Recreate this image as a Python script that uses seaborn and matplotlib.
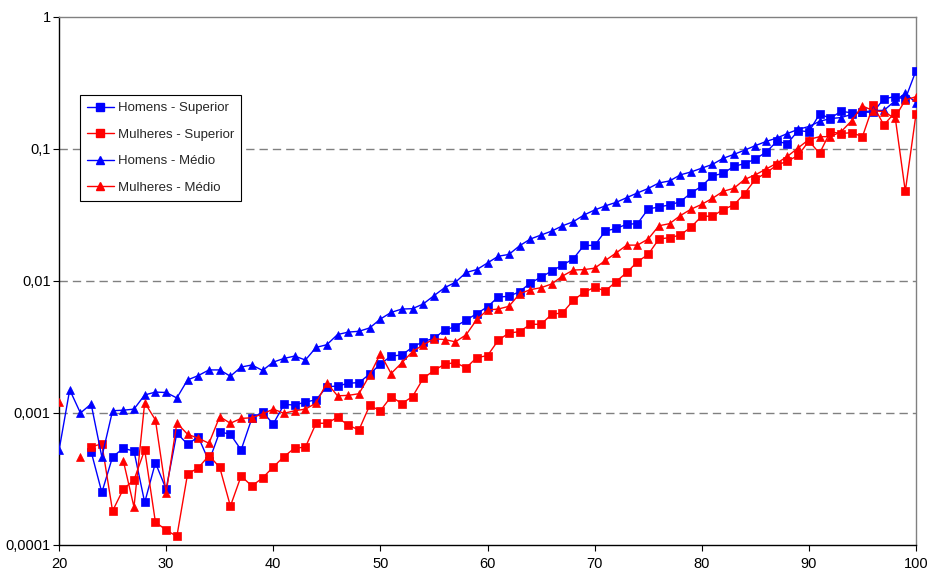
import numpy as np
import pandas as pd
import matplotlib
matplotlib.use("Agg")
import matplotlib.pyplot as plt
import seaborn as sns
from matplotlib.ticker import FixedLocator, NullLocator, FixedFormatter
from matplotlib.lines import Line2D

N = np.nan

ages = list(range(19, 101))

# Homens - Superior (ages 19..100)
homens_superior = [N, N, N, N,
    5.1e-4, 2.5e-4, 4.65e-4, 5.4e-4, 5.15e-4, 2.1e-4, 4.2e-4, 2.65e-4,
    7.05e-4, 5.8e-4, 6.6e-4, 4.3e-4, 7.2e-4, 6.9e-4, 5.25e-4, 9.1e-4, 1.02e-3, 8.25e-4,
    1.16e-3, 1.15e-3, 1.21e-3, 1.26e-3, 1.58e-3, 1.60e-3, 1.68e-3, 1.70e-3, 1.97e-3, 2.35e-3,
    2.70e-3, 2.75e-3, 3.15e-3, 3.48e-3, 3.68e-3, 4.24e-3, 4.52e-3, 5.05e-3, 5.66e-3, 6.38e-3,
    7.57e-3, 7.65e-3, 8.3e-3, 9.66e-3, 1.07e-2, 1.19e-2, 1.32e-2, 1.47e-2, 1.86e-2, 1.86e-2,
    2.39e-2, 2.50e-2, 2.69e-2, 2.72e-2, 3.51e-2, 3.64e-2, 3.77e-2, 3.99e-2, 4.64e-2, 5.23e-2,
    6.27e-2, 6.53e-2, 7.4e-2, 7.74e-2, 8.4e-2, 9.45e-2, 0.114, 0.110, 0.138, 0.135,
    0.184, 0.171, 0.193, 0.188, 0.19, 0.19, 0.24, 0.249, 0.239, 0.392]

# Mulheres - Superior
mulheres_superior = [N, N, N, N,
    5.55e-4, 5.83e-4, 1.81e-4, 2.65e-4, 3.11e-4, 5.25e-4, 1.49e-4, 1.30e-4,
    1.16e-4, 3.45e-4, 3.84e-4, 4.76e-4, 3.88e-4, 1.97e-4, 3.33e-4, 2.8e-4, 3.22e-4, 3.9e-4,
    4.67e-4, 5.43e-4, 5.5e-4, 8.36e-4, 8.36e-4, 9.27e-4, 8.08e-4, 7.44e-4, 1.14e-3, 1.04e-3,
    1.33e-3, 1.18e-3, 1.33e-3, 1.83e-3, 2.10e-3, 2.34e-3, 2.41e-3, 2.2e-3, 2.63e-3, 2.72e-3,
    3.55e-3, 4.04e-3, 4.13e-3, 4.7e-3, 4.7e-3, 5.6e-3, 5.73e-3, 7.13e-3, 8.2e-3, 8.96e-3,
    8.4e-3, 9.9e-3, 1.16e-2, 1.40e-2, 1.59e-2, 2.08e-2, 2.13e-2, 2.23e-2, 2.56e-2, 3.1e-2,
    3.09e-2, 3.48e-2, 3.77e-2, 4.6e-2, 5.88e-2, 6.6e-2, 7.53e-2, 8.1e-2, 8.93e-2, 0.115,
    9.27e-2, 0.135, 0.131, 0.133, 0.124, 0.214, 0.152, 0.188, 4.78e-2, 0.184]

# Homens - Médio
homens_medio = [1.4e-3,
    5.2e-4, 1.5e-3, 1.0e-3, 1.17e-3, 4.65e-4, 1.04e-3, 1.05e-3, 1.07e-3, 1.37e-3, 1.44e-3,
    1.43e-3, 1.30e-3, 1.78e-3, 1.92e-3, 2.12e-3, 2.12e-3, 1.90e-3, 2.23e-3, 2.31e-3, 2.10e-3,
    2.43e-3, 2.59e-3, 2.70e-3, 2.52e-3, 3.14e-3, 3.29e-3, 3.93e-3, 4.10e-3, 4.16e-3, 4.41e-3,
    5.15e-3, 5.78e-3, 6.13e-3, 6.17e-3, 6.7e-3, 7.74e-3, 8.9e-3, 9.77e-3, 1.16e-2, 1.22e-2,
    1.37e-2, 1.54e-2, 1.59e-2, 1.85e-2, 2.08e-2, 2.23e-2, 2.39e-2, 2.62e-2, 2.81e-2, 3.16e-2,
    3.45e-2, 3.71e-2, 3.94e-2, 4.28e-2, 4.65e-2, 5.02e-2, 5.53e-2, 5.73e-2, 6.37e-2, 6.7e-2,
    7.16e-2, 7.65e-2, 8.5e-2, 9.1e-2, 9.8e-2, 0.106, 0.114, 0.121, 0.131, 0.141,
    0.148, 0.162, 0.170, 0.173, 0.183, 0.19, 0.196, 0.196, 0.23, 0.264, 0.224]

# Mulheres - Médio
mulheres_medio = [N,
    1.21e-3, N, 4.67e-4, N, N, N, 4.36e-4, 1.94e-4, 1.20e-3, 8.86e-4,
    2.49e-4, 8.4e-4, 6.9e-4, 6.44e-4, 5.9e-4, 9.38e-4, 8.36e-4, 9.1e-4, 9.2e-4, 9.83e-4,
    1.07e-3, 9.95e-4, 1.04e-3, 1.07e-3, 1.19e-3, 1.69e-3, 1.35e-3, 1.36e-3, 1.40e-3, 1.93e-3,
    2.81e-3, 1.99e-3, 2.40e-3, 2.92e-3, 3.28e-3, 3.65e-3, 3.6e-3, 3.46e-3, 3.91e-3, 5.11e-3,
    6.03e-3, 6.13e-3, 6.43e-3, 8.0e-3, 8.6e-3, 8.9e-3, 9.5e-3, 1.09e-2, 1.21e-2, 1.22e-2,
    1.25e-2, 1.43e-2, 1.63e-2, 1.87e-2, 1.87e-2, 2.08e-2, 2.62e-2, 2.72e-2, 3.13e-2, 3.5e-2,
    3.81e-2, 4.23e-2, 4.78e-2, 5.04e-2, 5.88e-2, 6.37e-2, 7.05e-2, 7.8e-2, 8.8e-2, 0.102,
    0.118, 0.124, 0.124, 0.135, 0.164, 0.212, 0.195, 0.192, 0.171, 0.235, 0.249]

series_names = ["Homens - Superior", "Mulheres - Superior", "Homens - Médio", "Mulheres - Médio"]
series_values = [homens_superior, mulheres_superior, homens_medio, mulheres_medio]
series_colors = ["#0000FF", "#FF0000", "#0000FF", "#FF0000"]
series_markers = ["s", "s", "^", "^"]
series_msize = [5.5, 5.5, 6.2, 6.2]

y_ticks = [0.0001, 0.001, 0.01, 0.1, 1]
y_tick_labels = ["0,0001", "0,001", "0,01", "0,1", "1"]
x_ticks = [20, 30, 40, 50, 60, 70, 80, 90, 100]

sns.set_style("white")
plt.rcParams["font.family"] = ["Liberation Sans", "DejaVu Sans"]

fig = plt.figure(figsize=(9.27, 5.71), dpi=100)
ax = fig.add_axes([59 / 927, 1 - 545 / 571, (916 - 59) / 927, (545 - 17) / 571])

handles = []
for name, vals, col, mk, ms in zip(series_names, series_values, series_colors, series_markers, series_msize):
    df = pd.DataFrame({"age": ages, "value": vals})
    valid = df["value"].notna()
    run_id = (valid != valid.shift()).cumsum()
    for _, seg in df[valid].groupby(run_id[valid]):
        sns.lineplot(data=seg, x="age", y="value", ax=ax, color=col, marker=mk,
                     markersize=ms, markeredgecolor=col, markerfacecolor=col,
                     markeredgewidth=0.5, linewidth=1.0, legend=False, clip_on=True,
                     zorder=3)
    handles.append(Line2D([], [], color=col, marker=mk, markersize=ms,
                          markeredgecolor=col, markerfacecolor=col, linewidth=1.0,
                          label=name))

ax.set_yscale("log")
ax.set_xlim(20, 100)
ax.set_ylim(0.0001, 1)
ax.yaxis.set_major_locator(FixedLocator(y_ticks))
ax.yaxis.set_major_formatter(FixedFormatter(y_tick_labels))
ax.yaxis.set_minor_locator(NullLocator())
ax.xaxis.set_major_locator(FixedLocator(x_ticks))
ax.xaxis.set_minor_locator(NullLocator())
ax.set_xlabel("")
ax.set_ylabel("")

ax.grid(False)
for yv in [0.001, 0.01, 0.1]:
    ax.axhline(yv, color="#808080", linewidth=1.0, linestyle=(0, (6, 3.6)), zorder=1)

for s in ["left", "bottom"]:
    ax.spines[s].set_color("black")
    ax.spines[s].set_linewidth(1.0)
for s in ["top", "right"]:
    ax.spines[s].set_color("#808080")
    ax.spines[s].set_linewidth(1.0)

ax.tick_params(axis="both", which="major", direction="out", length=4, width=0.8,
               color="black", labelsize=10.5, labelcolor="black")
ax.tick_params(axis="y", pad=2)
ax.tick_params(axis="x", pad=5)
ax.tick_params(left=True, bottom=True)

leg = ax.legend(handles=handles, loc="upper left", bbox_to_anchor=(21 / 857, (545 - 95) / 528),
                borderaxespad=0, fontsize=9.5, frameon=True, fancybox=False,
                edgecolor="black", facecolor="white", framealpha=1,
                handlelength=2.0, handletextpad=0.3, labelspacing=1.08, borderpad=0.55)
leg.get_frame().set_linewidth(0.8)

fig.savefig("out.png", dpi=100)
